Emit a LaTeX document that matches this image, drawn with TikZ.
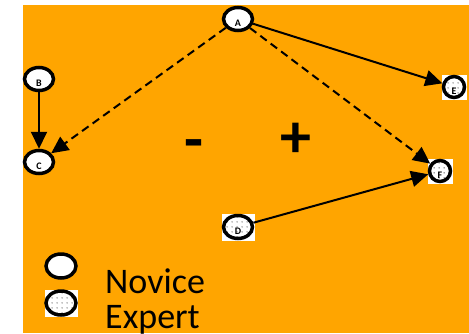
\documentclass[tikz,border=0pt]{standalone}
\usepackage{fontspec}
\setmainfont{Carlito}
\usetikzlibrary{shapes.geometric,arrows.meta,patterns.meta}
\definecolor{bgorange}{HTML}{FFA500}
\tikzdeclarepattern{name=sdots,type=uncolored,
  bounding box={(0pt,0pt) and (4.5pt,4.5pt)},
  tile size={(4.5pt,4.5pt)},
  code={\fill (2.25pt,2.25pt) circle (0.6pt);}}
\begin{document}
\begin{tikzpicture}[x=1pt,y=-1pt,
  nov/.style={ellipse,draw=black,line width=3.5pt,fill=white,inner sep=0pt,
    minimum width=29pt,minimum height=23pt,
    font=\fontsize{10}{10}\selectfont\bfseries,text height=15pt,text depth=0pt},
  expn/.style={nov,postaction={pattern=sdots,pattern color=black}},
  small/.style={minimum width=21pt,minimum height=21pt,text height=14pt},
  whitebg/.style={rectangle,fill=white,inner sep=0pt,minimum width=#1,minimum height=#1},
  arr/.style={-{Triangle[length=17pt,width=16pt]},line width=2pt},
  darr/.style={arr,dash pattern=on 8pt off 5pt},
  big/.style={font=\fontsize{62}{62}\selectfont\bfseries,inner sep=0pt},
  legend/.style={font=\fontsize{36}{36}\selectfont,inner sep=0pt,anchor=base west}]
\useasboundingbox (0,0) rectangle (469,333);
\fill[bgorange] (23,5) rectangle (469,333);

% white squares behind expert nodes
\node[whitebg=25pt] (ebg) at (454,87) {};
\node[whitebg=25pt] (fbg) at (440,171) {};
\node[rectangle,fill=white,inner sep=0pt,minimum width=33pt,minimum height=27pt] (dbg) at (238,227) {};
\node[rectangle,fill=white,inner sep=0pt,minimum width=33pt,minimum height=27pt] (xbg) at (61,303) {};

% nodes
\node[nov] (a) at (238,19) {A};
\node[nov] (b) at (39,79) {B};
\node[nov] (c) at (39,162) {C};
\node[expn] (d) at (238,227) {D};
\node[expn,small] (e) at (454,87) {E};
\node[expn,small] (f) at (440,171) {F};

% connectors
\draw[arr] (a) -- (e);
\draw[darr] (a) -- (c);
\draw[darr] (a) -- (f);
\draw[arr] (b) -- (c);
\draw[arr] (d) -- (f);

% signs
\node[big] (minus) at (194,150) {-};
\node[big] (plus) at (296,140) {+};

% legend
\node[nov,minimum width=30pt,minimum height=24pt,text height=0pt] (ln) at (61,266) {};
\node[expn,minimum width=30pt,minimum height=24pt,text height=0pt] (le) at (61,303) {};
\node[legend] (tn) at (105,293) {Novice};
\node[legend] (te) at (105,328) {Expert};
\end{tikzpicture}
\end{document}
